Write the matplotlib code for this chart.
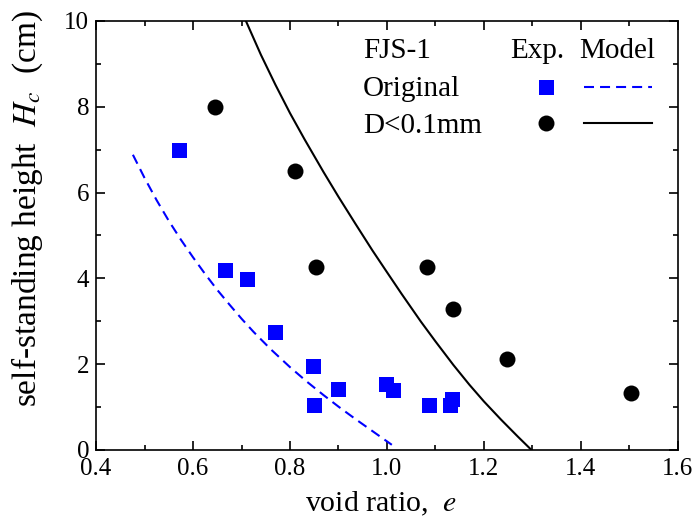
import matplotlib
matplotlib.use("Agg")
import matplotlib.pyplot as plt
from matplotlib.legend_handler import HandlerTuple

# experimental data, original FJS-1
e_orig = [0.571, 0.665, 0.711, 0.769, 0.847, 0.849, 0.900, 0.999, 1.012, 1.086, 1.130, 1.134]
hc_orig = [6.99, 4.20, 3.99, 2.74, 1.96, 1.04, 1.43, 1.53, 1.40, 1.04, 1.05, 1.18]

# experimental data, D<0.1mm
e_fine = [0.645, 0.811, 0.854, 1.082, 1.137, 1.247, 1.503]
hc_fine = [8.00, 6.50, 4.27, 4.27, 3.29, 2.11, 1.33]

# model curves
e_mod_orig = [0.476, 0.500, 0.525, 0.550, 0.575, 0.600, 0.625, 0.650, 0.675, 0.700,
              0.725, 0.760, 0.800, 0.835, 0.869, 0.900, 0.935, 0.970, 1.010]
hc_mod_orig = [6.88, 6.34, 5.82, 5.34, 4.90, 4.49, 4.10, 3.73, 3.39, 3.06,
               2.75, 2.35, 1.93, 1.59, 1.28, 1.01, 0.72, 0.44, 0.12]

e_mod_fine = [0.709, 0.740, 0.770, 0.800, 0.830, 0.869, 0.900, 0.935, 0.970, 0.999,
              1.030, 1.070, 1.100, 1.137, 1.170, 1.200, 1.235, 1.270, 1.298]
hc_mod_fine = [10.0, 9.21, 8.51, 7.85, 7.24, 6.48, 5.90, 5.27, 4.65, 4.16,
               3.64, 2.99, 2.53, 1.98, 1.52, 1.13, 0.71, 0.31, 0.0]

plt.rcParams['font.family'] = ['Liberation Serif', 'DejaVu Serif']
plt.rcParams['mathtext.fontset'] = 'stix'

fig = plt.figure(figsize=(6.96, 5.22), dpi=100)
ax = fig.add_axes([0.138, 0.138, 0.836, 0.822])

dash, = ax.plot(e_mod_orig, hc_mod_orig, color='blue', lw=1.5, dashes=(4.8, 2.9))
solid, = ax.plot(e_mod_fine, hc_mod_fine, color='black', lw=1.5)
sq, = ax.plot(e_orig, hc_orig, 's', color='blue', ms=10.8, mew=0, clip_on=False)
circ, = ax.plot(e_fine, hc_fine, 'o', color='black', ms=11.5, mew=0, clip_on=False)

ax.set_xlim(0.4, 1.6)
ax.set_ylim(0, 10)
ax.set_xticks([0.4, 0.6, 0.8, 1.0, 1.2, 1.4, 1.6])
ax.set_xticks([0.5, 0.7, 0.9, 1.1, 1.3, 1.5], minor=True)
ax.set_yticks([0, 2, 4, 6, 8, 10])
ax.set_yticks([1, 3, 5, 7, 9], minor=True)
ax.tick_params(which='both', direction='in', top=True, right=True, labelsize=18, width=1.2)
ax.tick_params(which='major', length=6.5, pad=5)
ax.tick_params(axis='x', which='major', pad=6)
ax.tick_params(which='minor', length=3.5)
for s in ax.spines.values():
    s.set_linewidth(1.2)

ax.set_xlabel('void ratio,  $e$', fontsize=21.5, va='top')
ax.xaxis.set_label_coords(0.49, -0.093)
ax.set_ylabel('self-standing height  $H_c$  (cm)', fontsize=24)
ax.yaxis.set_label_coords(-0.088, 0.562)

# legend: text by hand, keys by the legend
ax.text(0.459, 0.914, 'FJS-1', fontsize=21, transform=ax.transAxes, va='baseline')
ax.text(0.711, 0.914, 'Exp.', fontsize=21, transform=ax.transAxes, va='baseline')
ax.text(0.830, 0.914, 'Model', fontsize=21, transform=ax.transAxes, va='baseline')
ax.text(0.459, 0.825, 'Original', fontsize=21, transform=ax.transAxes, va='baseline')
ax.text(0.459, 0.739, 'D<0.1mm', fontsize=21, transform=ax.transAxes, va='baseline')

ax.legend([(sq, dash), (circ, solid)], ['', ''],
          handler_map={tuple: HandlerTuple(ndivide=None, pad=0.14)},
          loc='center left', bbox_to_anchor=(0.715, 0.797), frameon=False,
          fontsize=21, handlelength=4.8, handletextpad=0, borderpad=0,
          borderaxespad=0, labelspacing=0.36, numpoints=1)

fig.savefig('out.png', dpi=100)
